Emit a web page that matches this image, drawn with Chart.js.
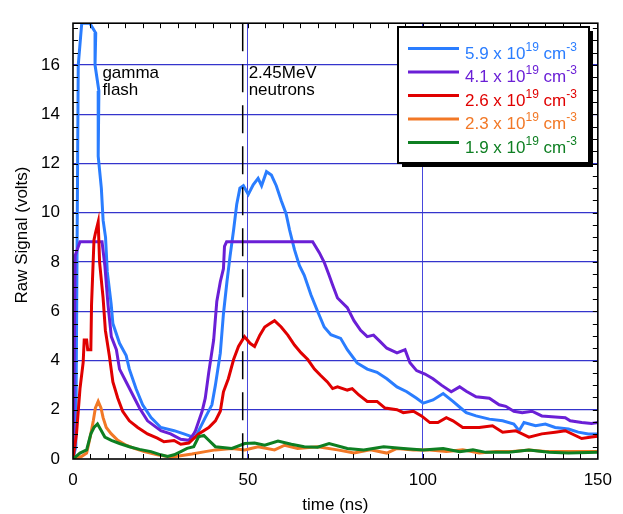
<!DOCTYPE html>
<html>
<head>
<meta charset="utf-8">
<script src="https://cdn.jsdelivr.net/npm/chart.js@4.4.0/dist/chart.umd.min.js"></script>
<style>
  body { margin: 0; background: #fff; }
  #wrap { width: 623px; height: 514px; }
</style>
</head>
<body>
<div id="wrap"><canvas id="signalChart" width="623" height="514"></canvas></div>
<script>
// time (ns) and raw signal (volts)
const t59 = [0, 0.8, 1.5, 2.5, 4.8, 6.5, 6.3, 7.4, 7.2, 8.1, 8.6, 9.3, 9.8, 10.9, 11.4, 13.3, 15.2, 16.1, 18.0, 19.9, 22.3, 25.1, 28.9, 31.7, 34.3, 35.0, 37.8, 39.7, 40.7, 42.1, 43.0, 44.0, 44.9, 45.9, 46.8, 47.7, 48.7, 50.1, 51.5, 52.9, 53.9, 55.3, 56.7, 58.1, 59.5, 60.9, 61.9, 63.3, 64.7, 66.1, 68.0, 69.9, 71.8, 73.7, 76.5, 78.4, 81.2, 84.1, 86.9, 89.7, 92.6, 95.4, 98.2, 100.1, 102.9, 105.8, 108.6, 111.4, 112.4, 115.2, 119.0, 122.8, 126.0, 127.5, 128.9, 132.2, 135.0, 137.8, 141.6, 144.4, 147.3, 150];
const v59 = [0, 0.5, 16, 17.7, 17.7, 17.3, 16, 14.95, 12.3, 11.0, 9.7, 9.0, 7.6, 6.3, 5.5, 4.7, 4.2, 3.65, 2.86, 2.2, 1.68, 1.28, 1.15, 1.02, 0.89, 0.89, 1.68, 2.2, 3.0, 4.3, 5.9, 7.2, 8.25, 9.3, 10.35, 11.0, 11.1, 10.75, 11.14, 11.4, 11.1, 11.67, 11.53, 11.1, 10.5, 9.96, 9.3, 8.5, 7.86, 7.46, 6.67, 6.0, 5.36, 5.05, 4.9, 4.44, 3.9, 3.65, 3.52, 3.26, 2.93, 2.73, 2.47, 2.27, 2.4, 2.66, 2.34, 2.0, 1.88, 1.75, 1.62, 1.55, 1.42, 1.15, 1.48, 1.35, 1.42, 1.28, 1.22, 1.09, 1.02, 1.02];

const t41 = [0, 0.3, 0.6, 2.0, 8.3, 9.1, 10.0, 10.95, 12.4, 13.3, 15.2, 17.1, 19.0, 21.3, 25.1, 27.9, 30.8, 33.1, 34.5, 35.0, 36.9, 37.8, 38.8, 40.2, 41.1, 42.1, 43.0, 43.3, 43.9, 68.5, 70.4, 71.8, 73.2, 74.2, 75.6, 78.4, 80.3, 82.2, 84.1, 85.9, 87.8, 89.7, 92.6, 94.9, 96.3, 98.2, 100.6, 102.9, 105.3, 108.1, 110.5, 112.4, 115.2, 119.0, 121.8, 123.7, 126.0, 128.4, 131.2, 134.0, 137.8, 140.7, 142.1, 145.4, 148.2, 150];
const v41 = [0, 3, 8.25, 8.82, 8.82, 7.86, 6.28, 4.97, 4.44, 3.65, 3.13, 2.6, 2.07, 1.55, 1.15, 1.02, 0.8, 0.76, 1.02, 1.15, 1.94, 2.47, 3.52, 4.83, 6.4, 7.2, 7.73, 8.64, 8.82, 8.82, 8.38, 7.99, 7.46, 7.07, 6.54, 6.15, 5.62, 5.23, 4.97, 5.03, 4.77, 4.5, 4.31, 4.44, 3.91, 3.59, 3.45, 3.26, 3.0, 2.73, 2.93, 2.75, 2.53, 2.47, 2.2, 2.14, 1.94, 1.88, 1.94, 1.75, 1.71, 1.68, 1.55, 1.48, 1.44, 1.48];

const t26 = [0, 1.0, 2.0, 2.9, 3.2, 3.9, 4.2, 5.1, 5.3, 6.0, 6.4, 7.2, 7.6, 8.6, 9.25, 10.4, 11.4, 12.8, 14.2, 16.1, 18.5, 21.3, 24.1, 26.0, 28.9, 30.8, 33.1, 35.9, 38.8, 40.7, 42.1, 43.0, 44.4, 45.9, 47.3, 49.0, 50.6, 51.9, 53.4, 54.8, 56.2, 57.6, 59.5, 61.4, 63.3, 65.2, 67.1, 69.0, 70.8, 72.7, 74.2, 75.6, 78.4, 79.8, 81.7, 84.1, 86.9, 89.2, 92.6, 94.4, 97.3, 99.6, 102.0, 104.3, 106.7, 108.6, 111.4, 116.1, 119.9, 122.8, 126.5, 130.3, 134.0, 137.8, 140.7, 145.4, 148.2, 150];
const v26 = [0, 1.02, 2.86, 3.91, 4.83, 4.83, 4.44, 4.44, 6.28, 8.9, 9.17, 9.63, 7.99, 6.54, 5.23, 4.18, 3.13, 2.47, 1.94, 1.55, 1.28, 1.02, 0.85, 0.7, 0.75, 0.6, 0.65, 1.02, 1.28, 1.55, 1.94, 2.73, 3.26, 4.04, 4.57, 4.97, 4.7, 4.57, 5.03, 5.36, 5.49, 5.62, 5.36, 5.03, 4.63, 4.31, 4.04, 3.65, 3.39, 3.13, 2.86, 2.93, 2.8, 2.86, 2.6, 2.34, 2.34, 2.07, 2.0, 1.88, 1.94, 1.75, 1.48, 1.48, 1.68, 1.55, 1.28, 1.28, 1.35, 1.09, 1.15, 0.89, 1.02, 1.09, 1.15, 0.83, 0.89, 0.92];

const t23 = [0, 2.4, 3.9, 5.1, 5.8, 6.4, 7.2, 8.0, 8.6, 9.5, 10.95, 12.8, 15.2, 17.5, 20.4, 24.1, 27.9, 29.3, 34.0, 37.8, 40.7, 45.4, 49.1, 52.9, 57.6, 60.5, 64.2, 69.9, 75.6, 80.3, 85.0, 89.7, 92.6, 97.3, 102.0, 106.7, 111.4, 116.1, 120.9, 125.6, 130.3, 135.0, 139.7, 144.4, 150];
const v23 = [0, 0.1, 0.24, 1.02, 1.55, 2.07, 2.34, 2.07, 1.68, 1.28, 1.02, 0.76, 0.56, 0.43, 0.3, 0.17, 0.08, 0.1, 0.2, 0.3, 0.37, 0.43, 0.37, 0.5, 0.37, 0.56, 0.43, 0.5, 0.37, 0.24, 0.37, 0.24, 0.43, 0.37, 0.37, 0.3, 0.37, 0.24, 0.3, 0.3, 0.37, 0.3, 0.3, 0.3, 0.3];

const t19 = [0, 2.0, 3.9, 5.1, 6.0, 7.0, 8.1, 9.1, 10.95, 13.3, 16.1, 19.0, 22.3, 25.1, 27.0, 28.9, 30.8, 32.6, 34.5, 35.9, 37.4, 38.8, 40.7, 45.4, 49.1, 51.9, 54.8, 58.6, 62.4, 66.1, 69.9, 73.2, 78.4, 83.1, 88.8, 94.4, 100.1, 105.8, 110.5, 114.3, 118.0, 124.6, 130.3, 136.0, 141.6, 150];
const v19 = [0, 0.24, 0.37, 1.02, 1.28, 1.42, 1.15, 0.89, 0.76, 0.63, 0.5, 0.39, 0.3, 0.17, 0.1, 0.17, 0.3, 0.43, 0.5, 0.9, 0.96, 0.76, 0.5, 0.43, 0.63, 0.65, 0.56, 0.73, 0.6, 0.5, 0.48, 0.63, 0.43, 0.37, 0.5, 0.43, 0.37, 0.43, 0.3, 0.37, 0.27, 0.27, 0.37, 0.27, 0.24, 0.27];

const densities = ["5.9", "4.1", "2.6", "2.3", "1.9"];
const colors = ["#2a7dff", "#6a1fd6", "#e00000", "#f27826", "#0e7f22"];
const xTicks = [0, 50, 100, 150];
const yTicks = [0, 2, 4, 6, 8, 10, 12, 14, 16];
const markerTime = 48.5;

const FONT = "Liberation Sans, Arial, sans-serif";
Chart.defaults.font.family = FONT;
Chart.defaults.font.size = 17;
Chart.defaults.color = "#000";

const toPoints = (ts, vs) => ts.map((t, i) => ({ x: t, y: vs[i] }));
const series = [[t59, v59], [t41, v41], [t26, v26], [t23, v23], [t19, v19]];

const frame = {
  id: "frame",
  afterDatasetsDraw(chart) {
    const { ctx, chartArea: a } = chart;
    const x = chart.scales.x, y = chart.scales.y;
    ctx.save();

    // 2.45 MeV arrival marker
    const mx = x.getPixelForValue(markerTime);
    ctx.strokeStyle = "#000";
    ctx.lineWidth = 1.5;
    ctx.setLineDash([28, 13]);
    ctx.beginPath();
    ctx.moveTo(mx, a.top);
    ctx.lineTo(mx, a.bottom);
    ctx.stroke();
    ctx.setLineDash([]);

    // inward ticks on all four sides
    ctx.lineWidth = 1;
    ctx.beginPath();
    for (let v = 5; v < 150; v += 5) {
      const px = Math.round(x.getPixelForValue(v)) + 0.5;
      ctx.moveTo(px, a.bottom); ctx.lineTo(px, a.bottom - 5);
      ctx.moveTo(px, a.top); ctx.lineTo(px, a.top + 5);
    }
    for (let v = 0.5; v < 17.7; v += 0.5) {
      const py = Math.round(y.getPixelForValue(v)) + 0.5;
      ctx.moveTo(a.left, py); ctx.lineTo(a.left + 5, py);
      ctx.moveTo(a.right, py); ctx.lineTo(a.right - 5, py);
    }
    ctx.stroke();

    ctx.lineWidth = 1.6;
    ctx.strokeRect(a.left, a.top, a.right - a.left, a.bottom - a.top);

    // annotations
    ctx.fillStyle = "#000";
    ctx.font = "17px " + FONT;
    ctx.textBaseline = "alphabetic";
    ctx.textAlign = "left";
    const ax = x.getPixelForValue(8.4), bx = x.getPixelForValue(50.2);
    ctx.fillText("gamma", ax, 78);
    ctx.fillText("flash", ax, 95);
    ctx.fillText("2.45MeV", bx, 78);
    ctx.fillText("neutrons", bx, 95);

    // legend with superscripts
    const lx = 398, ly = 27, lw = 191, lh = 136;
    ctx.fillStyle = "#000";
    ctx.fillRect(lx + 4, ly + 4, lw, lh);
    ctx.fillStyle = "#fff";
    ctx.fillRect(lx, ly, lw, lh);
    ctx.lineWidth = 2;
    ctx.strokeStyle = "#000";
    ctx.strokeRect(lx, ly, lw, lh);
    chart.data.datasets.forEach((ds, i) => {
      const cy = 48.5 + i * 23.5;
      ctx.strokeStyle = ds.borderColor;
      ctx.lineWidth = 3;
      ctx.beginPath();
      ctx.moveTo(408, cy); ctx.lineTo(459, cy);
      ctx.stroke();
      ctx.fillStyle = ds.borderColor;
      let tx = 465;
      const base = cy + 10;
      const parts = [[densities[i] + " x 10", false], ["19", true], [" cm", false], ["-3", true]];
      parts.forEach(([s, sup]) => {
        ctx.font = (sup ? "12px " : "17px ") + FONT;
        ctx.fillText(s, tx, sup ? base - 8 : base);
        tx += ctx.measureText(s).width;
      });
    });

    // axis titles
    ctx.fillStyle = "#000";
    ctx.font = "17px " + FONT;
    ctx.textAlign = "center";
    ctx.textBaseline = "middle";
    ctx.fillText("time (ns)", (a.left + a.right) / 2, 505);
    ctx.translate(22, 235);
    ctx.rotate(-Math.PI / 2);
    ctx.fillText("Raw Signal (volts)", 0, 0);
    ctx.restore();
  }
};

new Chart(document.getElementById("signalChart"), {
  type: "line",
  data: {
    datasets: series.map(([ts, vs], i) => ({
      label: densities[i] + " x 10^19 cm^-3",
      data: toPoints(ts, vs),
      borderColor: colors[i],
      borderWidth: 3,
      pointRadius: 0,
      tension: 0,
      fill: false,
      order: 5 - i
    }))
  },
  options: {
    responsive: false,
    animation: false,
    layout: { padding: { top: 10, right: 20, left: 0, bottom: 0 } },
    plugins: { legend: { display: false }, tooltip: { enabled: false } },
    scales: {
      x: {
        type: "linear",
        min: 0,
        max: 150,
        afterBuildTicks: (s) => { s.ticks = xTicks.map((v) => ({ value: v })); },
        afterFit: (s) => { s.height = 55; },
        ticks: { padding: 11, autoSkip: false, maxRotation: 0 },
        grid: {
          color: (c) => (c.tick.value === 0 || c.tick.value === 150 ? "rgba(0,0,0,0)" : "#4747dd"),
          lineWidth: 1,
          drawTicks: false
        },
        border: { display: false }
      },
      y: {
        min: 0,
        max: 17.7,
        afterBuildTicks: (s) => { s.ticks = yTicks.map((v) => ({ value: v })); },
        afterFit: (s) => { s.width = 73; },
        ticks: { padding: 13 },
        grid: {
          color: (c) => (c.tick.value === 0 ? "rgba(0,0,0,0)" : "#3434cc"),
          lineWidth: 1.2,
          drawTicks: false
        },
        border: { display: false }
      }
    }
  },
  plugins: [frame]
});
</script>
</body>
</html>
